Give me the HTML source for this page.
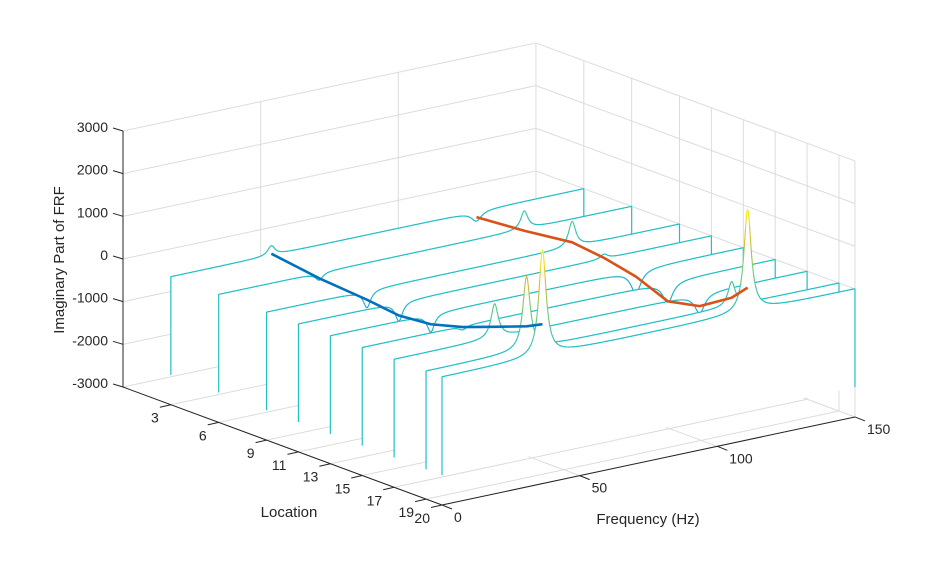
<!DOCTYPE html>
<html><head><meta charset="utf-8"><style>
html,body{margin:0;padding:0;background:#fff;}
svg text{font-family:"Liberation Sans",Arial,sans-serif;fill:#262626;}
</style></head><body>
<svg id="chart" width="946" height="569" viewBox="0 0 946 569" xmlns="http://www.w3.org/2000/svg">
<g id="grid"></g>
<g id="curves"></g>
<g id="modes"></g>
<g id="axes"></g>
<text transform="translate(64,260) rotate(-90)" text-anchor="middle" font-size="15">Imaginary Part of FRF</text>
<text x="289" y="517" text-anchor="middle" font-size="15">Location</text>
<text x="648" y="524" text-anchor="middle" font-size="15">Frequency (Hz)</text>
</svg>
<script>
// ---- data ----
const locations = [3, 6, 9, 11, 13, 15, 17, 19, 20];
const mode1Freq = 36.5;
const mode2Freq = 111;
const mode1Peak = [225, -170, -400, -440, -420, -90, 800, 1720, 2470];
const mode2Peak = [-225, 430, 600, 110, -540, -490, -450, 570, 2400];
const mode1Shape = [37, -124, -213, -305, -234, -23, 258, 548, 736];
const mode2Shape = [-131, -35, 108, 19, -143, -445, -281, 192, 567];
const zTicks = [-3000, -2000, -1000, 0, 1000, 2000, 3000];
const zTickLabels = ['-3000', '-2000', '-1000', '0', '1000', '2000', '3000'];
const fTicks = [0, 50, 100, 150];
const fTickLabels = ['0', '50', '100', '150'];
const lTicks = [3, 6, 9, 11, 13, 15, 17, 19, 20];
const lTickLabels = ['3', '6', '9', '11', '13', '15', '17', '19', '20'];
const zFloor = -2300;

// ---- projection ----
function X(f, L) { return 123 + 2.753 * f + 15.95 * L; }
function Y(f, L, z) { return 387 - 0.587 * f + 5.9 * L - 0.04267 * (z + 3000); }
function P(f, L, z) { return [X(f, L), Y(f, L, z)]; }
const NS = 'http://www.w3.org/2000/svg';
function mk(tag, attrs, parent) {
  const e = document.createElementNS(NS, tag);
  for (const k in attrs) e.setAttribute(k, attrs[k]);
  parent.appendChild(e);
  return e;
}
function line(a, b, stroke, w, parent, name) {
  const e = mk('line', {x1: a[0], y1: a[1], x2: b[0], y2: b[1], stroke: stroke, 'stroke-width': w}, parent);
  
  
  return e;
}
const grid = document.getElementById('grid');
const axes = document.getElementById('axes');
const curves = document.getElementById('curves');
const modes = document.getElementById('modes');
const gc = '#dcdcdc';

zTicks.forEach(z => {
  line(P(0, 0, z), P(150, 0, z), gc, 1, grid, 'z-gridline-back');
  line(P(150, 0, z), P(150, 20, z), gc, 1, grid, 'z-gridline-side');
});
fTicks.forEach(f => {
  line(P(f, 0, -3000), P(f, 0, 3000), gc, 1, grid, 'freq-gridline-back');
  line(P(f, 0, -3000), P(f, 20, -3000), gc, 1, grid, 'freq-gridline-floor');
});
lTicks.forEach(L => {
  line(P(150, L, -3000), P(150, L, 3000), gc, 1, grid, 'location-gridline-side');
  line(P(0, L, -3000), P(150, L, -3000), gc, 1, grid, 'location-gridline-floor');
});

const stops = [[0, [62, 38, 168]], [0.25, [35, 120, 235]], [0.48, [32, 192, 200]], [0.7, [120, 205, 110]], [0.85, [230, 185, 50]], [1, [249, 251, 14]]];
function cmap(z) {
  let t = (z - zFloor) / (2470 - zFloor);
  t = Math.max(0, Math.min(1, t));
  for (let i = 1; i < stops.length; i++) {
    if (t <= stops[i][0]) {
      const a = stops[i - 1], b = stops[i];
      const u = (t - a[0]) / (b[0] - a[0]);
      const c = a[1].map((v, k) => Math.round(v + (b[1][k] - v) * u));
      return 'rgb(' + c.join(',') + ')';
    }
  }
  return 'rgb(249,251,14)';
}
function lor(f, f0, w) { const d = (f - f0) / w; return 1 / (1 + d * d); }

locations.forEach((L, i) => {
  const g = mk('g', {}, curves);
  
  
  const pts = [];
  for (let f = 0; f <= 150.001; f += 0.25) {
    const w2 = mode2Peak[i] < 0 ? 2.2 : 1.6;
    const z = mode1Peak[i] * lor(f, mode1Freq, 1.6) + mode2Peak[i] * lor(f, mode2Freq, w2);
    pts.push([f, z]);
  }
  let d = 'M' + P(0, L, zFloor).join(',');
  pts.forEach(p => { d += 'L' + P(p[0], L, p[1]).map(v => v.toFixed(2)).join(','); });
  d += 'L' + P(150, L, zFloor).join(',') + 'Z';
  const fill = mk('path', {d: d, fill: '#fff', stroke: 'none'}, g);
  
  
  const cc = cmap(0);
  line(P(0, L, zFloor), P(0, L, pts[0][1]), cc, 1.2, g, 'curtain-edge-start');
  line(P(150, L, zFloor), P(150, L, pts[pts.length - 1][1]), cc, 1.2, g, 'curtain-edge-end');
  for (let k = 1; k < pts.length; k++) {
    const a = pts[k - 1], b = pts[k];
    const s = mk('line', {x1: X(a[0], L), y1: Y(a[0], L, a[1]), x2: X(b[0], L), y2: Y(b[0], L, b[1]), stroke: cmap((a[1] + b[1]) / 2), 'stroke-width': 1.1, 'stroke-linecap': 'round'}, g);
    
    
  }
});

function modeLine(freq, shape, color, name) {
  let d = '';
  locations.forEach((L, i) => { d += (i ? 'L' : 'M') + P(freq, L, shape[i]).map(v => v.toFixed(2)).join(','); });
  const e = mk('path', {d: d, fill: 'none', stroke: color, 'stroke-width': 2.6, 'stroke-linejoin': 'round'}, modes);
  
  
}
modeLine(mode1Freq, mode1Shape, '#0072bd', 'mode-1-line');
modeLine(mode2Freq, mode2Shape, '#d95319', 'mode-2-line');

const ac = '#262626';
line(P(0, 0, -3000), P(0, 0, 3000), ac, 1, axes, 'z-axis-line');
line(P(0, 0, -3000), P(0, 20, -3000), ac, 1, axes, 'location-axis-line');
line(P(0, 20, -3000), P(150, 20, -3000), ac, 1, axes, 'frequency-axis-line');
zTicks.forEach((z, i) => {
  const p = P(0, 0, z);
  line([p[0] - 10, p[1] - 3], p, ac, 1, axes, 'z-tick');
  const t = mk('text', {x: 108, y: p[1] + 1, 'text-anchor': 'end', 'font-size': 14}, axes);
  t.textContent = zTickLabels[i];
  
  
});
lTicks.forEach((L, i) => {
  const p = P(0, L, -3000);
  line([p[0] - 11, p[1] + 2.5], p, ac, 1, axes, 'location-tick');
  const t = mk('text', {x: p[0] - 12, y: p[1] + 18, 'text-anchor': 'end', 'font-size': 14}, axes);
  t.textContent = lTickLabels[i];
  
  
});
fTicks.forEach((f, i) => {
  const p = P(f, 20, -3000);
  line(p, [p[0] + 10, p[1] + 4], ac, 1, axes, 'frequency-tick');
  const t = mk('text', {x: p[0] + 12, y: p[1] + 17, 'text-anchor': 'start', 'font-size': 14}, axes);
  t.textContent = fTickLabels[i];
  
  
});
</script>
</body></html>
